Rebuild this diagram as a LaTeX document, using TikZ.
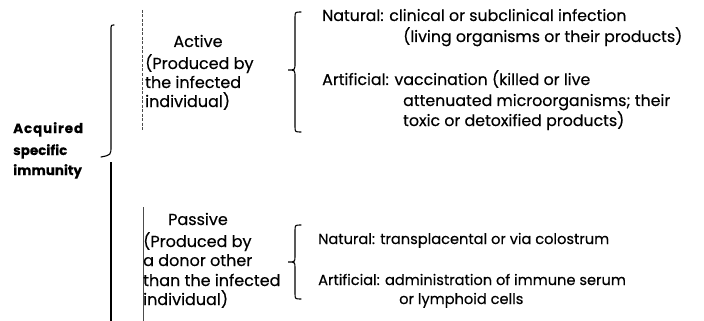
\documentclass[tikz,border=0pt]{standalone}
\usepackage{fontspec}
\setmainfont{Poppins}[FakeBold=0.35]
\begin{document}
\begin{tikzpicture}[x=1pt,y=-1pt,
  txt/.style={anchor=base west,inner sep=0pt,font=\fontsize{15.8}{17}\selectfont},
  txtl/.style={anchor=base west,inner sep=0pt,font=\fontsize{14.6}{17}\selectfont},
  ltxt/.style={anchor=base west,inner sep=0pt,font=\fontsize{16}{18}\selectfont},
  ctxt/.style={anchor=base,inner sep=0pt,font=\fontsize{16}{18}\selectfont},
  lbl/.style={anchor=base west,inner sep=0pt,font=\fontsize{13.5}{15}\bfseries\selectfont},
  brace/.style={line width=1.1pt,line cap=round},
  guide/.style={line width=0.5pt,black!70}]
\useasboundingbox (0,0) rectangle (704,321);
% left label
\node[lbl] (acq) at (13,133) {A\kern0.9pt c\kern0.9pt q\kern0.9pt u\kern0.9pt i\kern0.9pt r\kern0.9pt e\kern0.9pt d};
\node[lbl] (spe) at (13,155) {specific};
\node[lbl] (imm) at (13,175) {immunity};
% big brace
\draw[brace] (114,25) .. controls (111,25) .. (111,31) -- (111,146) .. controls (111,155) .. (101,157);
\draw[line width=1.5pt] (111,162) -- (111,321);
% guide lines
\draw[guide,dashed,dash pattern=on 3pt off 1.5pt] (142,10) -- (142,130);
\draw[guide] (143,207) -- (143,321);
% Active block
\node[ctxt] (act) at (198,47) {Active};
\node[ltxt] (ap1) at (145,69) {(Produced by};
\node[ltxt] (ap2) at (145,88) {the infected};
\node[ltxt] (ap3) at (145,107) {individual)};
% upper right brace
\draw[brace] (301,12) .. controls (295,12) .. (295,18) -- (295,63) .. controls (295,70) .. (288,70) .. controls (295,70) .. (295,77) -- (295,126) .. controls (295,132) .. (301,132);
\node[txt] (n1) at (322,21) {Natural: clinical or subclinical infection};
\node[txt] (n2) at (403,42) {(living organisms or their products)};
\node[txt] (a1) at (322,85) {Artificial: vaccination (killed or live};
\node[txt] (a2) at (403,106) {attenuated microorganisms; their};
\node[txt] (a3) at (403,126) {toxic or detoxified products)};
% Passive block
\node[ctxt] (pas) at (198,225) {Passive};
\node[ltxt] (pp1) at (143,247) {(Produced by};
\node[ltxt] (pp2) at (143,266) {a donor other};
\node[ltxt] (pp3) at (143,286) {than the infected};
\node[ltxt] (pp4) at (143,305) {individual)};
% lower right brace
\draw[brace] (301,225) .. controls (295,225) .. (295,231) -- (295,256) .. controls (295,262) .. (288,262) .. controls (295,262) .. (295,268) -- (295,293) .. controls (295,299) .. (301,299);
\node[txtl] (pn) at (318,244) {Natural: transplacental or via colostrum};
\node[txtl] (pa1) at (318,285) {Artificial: administration of immune serum};
\node[txtl] (pa2) at (399,304) {or lymphoid cells};
\end{tikzpicture}
\end{document}
